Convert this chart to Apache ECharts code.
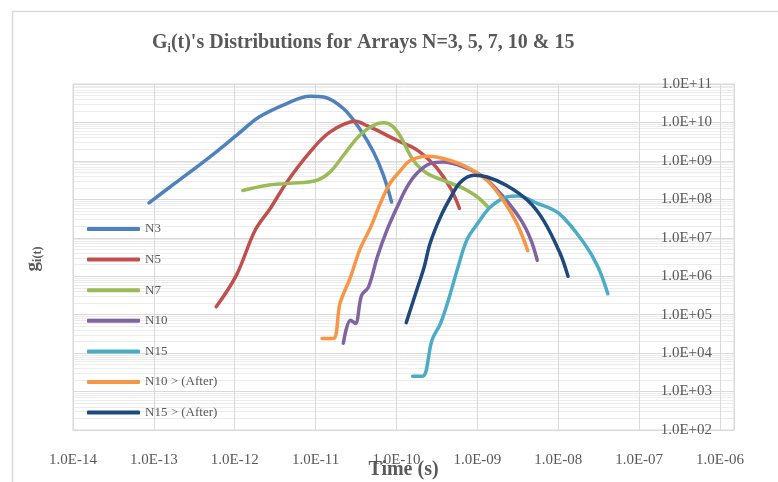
<!DOCTYPE html>
<html>
<head>
<meta charset="utf-8">
<script src="https://cdn.jsdelivr.net/npm/echarts@6/dist/echarts.min.js"></script>
<style>html,body{margin:0;padding:0;background:#fff;}#chart{width:778px;height:482px;}</style>
</head>
<body>
<div id="chart"></div>
<script>
// ---- data (time in seconds, g_i(t)) ----
const seriesNames = ['N3', 'N5', 'N7', 'N10', 'N15', 'N10 > (After)', 'N15 > (After)'];

const n3T = [8.7e-14, 1.9e-13, 4.9e-13, 1.05e-12, 2.0e-12, 4.4e-12, 8.5e-12, 1.26e-11, 2.2e-11, 3.5e-11, 5.2e-11, 6.9e-11, 8.7e-11];
const n3G = [8.1e7, 2.8e8, 1.26e9, 4.6e9, 1.38e10, 3.1e10, 4.8e10, 4.6e10, 2.3e10, 6.9e9, 1.7e9, 4.2e8, 8.5e7];

const n5T = [5.9e-13, 1.05e-12, 1.78e-12, 2.75e-12, 4.4e-12, 8.5e-12, 1.5e-11, 3.1e-11, 4.3e-11, 5.8e-11, 8.3e-11, 1.12e-10, 1.62e-10, 2.2e-10, 3.2e-10, 4.7e-10, 6.0e-10];
const n5G = [1.6e5, 1.07e6, 1.55e7, 5.8e7, 2.8e8, 1.7e9, 5.6e9, 1.07e10, 8.3e9, 6.2e9, 4.2e9, 3.1e9, 2.2e9, 1.38e9, 6.3e8, 1.9e8, 5.8e7];

const n7T = [1.26e-12, 2.45e-12, 4.8e-12, 1.02e-11, 1.5e-11, 2.2e-11, 3.5e-11, 5.8e-11, 7.1e-11, 8.9e-11, 1.12e-10, 1.62e-10, 2.4e-10, 3.8e-10, 6.8e-10, 1.0e-9, 1.35e-9];
const n7G = [1.7e8, 2.3e8, 2.6e8, 3.1e8, 5.1e8, 1.38e9, 4.6e9, 9.3e9, 9.8e9, 8.0e9, 4.3e9, 1.02e9, 4.7e8, 3.1e8, 1.9e8, 1.15e8, 6.3e7];

const n10T = [2.2e-11, 2.7e-11, 3.1e-11, 3.7e-11, 4.5e-11, 5.8e-11, 7.6e-11, 1.02e-10, 1.35e-10, 1.78e-10, 2.6e-10, 3.8e-10, 6.8e-10, 1.2e-9, 2.1e-9, 3.5e-9, 4.6e-9, 5.5e-9];
const n10G = [1.8e4, 7.2e4, 5.9e4, 3.2e5, 5.2e5, 3.2e6, 1.55e7, 6.3e7, 2.1e8, 4.7e8, 8.5e8, 9.3e8, 6.9e8, 3.8e8, 1.15e8, 2.8e7, 8.7e6, 2.6e6];

const n15T = [1.58e-10, 2.1e-10, 2.75e-10, 3.5e-10, 4.3e-10, 5.6e-10, 7.4e-10, 1.0e-9, 1.45e-9, 2.3e-9, 3.2e-9, 5.5e-9, 1.02e-8, 2.1e-8, 3.1e-8, 4.1e-8];
const n15G = [2.5e3, 2.5e3, 2.2e4, 5.9e4, 2.1e5, 1.4e6, 8.7e6, 2.3e7, 6.3e7, 1.15e8, 1.23e8, 7.9e7, 4.3e7, 7.1e6, 1.74e6, 3.5e5];

const n10aT = [1.2e-11, 1.66e-11, 2.0e-11, 2.7e-11, 3.5e-11, 4.8e-11, 6.3e-11, 8.3e-11, 1.12e-10, 1.48e-10, 2.4e-10, 3.8e-10, 7.4e-10, 1.32e-9, 2.1e-9, 3.1e-9, 4.2e-9];
const n10aG = [2.4e4, 2.4e4, 1.95e5, 9.5e5, 4.8e6, 1.9e7, 7.8e7, 2.6e8, 5.6e8, 1.02e9, 1.32e9, 1.15e9, 6.9e8, 3.1e8, 9.3e7, 2.3e7, 4.6e6];

const n15aT = [1.32e-10, 1.78e-10, 2.2e-10, 2.6e-10, 3.5e-10, 4.7e-10, 6.2e-10, 9.1e-10, 1.32e-9, 2.3e-9, 4.2e-9, 6.6e-9, 1.05e-8, 1.32e-8];
const n15aG = [6.2e4, 4.4e5, 1.74e6, 7.1e6, 3.5e7, 1.15e8, 2.8e8, 4.2e8, 3.8e8, 2.3e8, 9.3e7, 2.8e7, 4.0e6, 1.0e6];

const xTickMin = 1e-14, xAxisMax = 1.49e-6;
const yTickMin = 1e2, yTickMax = 1e11;

// ---- presentation ----
const colors = ['#4F81BD', '#C0504D', '#9BBB59', '#8064A2', '#4BACC6', '#F79646', '#1F497D'];
const tArrays = [n3T, n5T, n7T, n10T, n15T, n10aT, n15aT];
const gArrays = [n3G, n5G, n7G, n10G, n15G, n10aG, n15aG];
const FONT = 'Liberation Serif';
const TXT = '#595959';

function sciLabel(v) {
  const l = Math.log10(v);
  const e = Math.round(l);
  if (Math.abs(l - e) > 0.01) return '';
  const s = e < 0 ? '-' : '+';
  const a = Math.abs(e);
  return '1.0E' + s + (a < 10 ? '0' + a : '' + a);
}

// minor log gridlines (2..9 within each decade)
const minorX = [], minorY = [];
for (let e = -14; e <= -7; e++) for (let m = 2; m <= 9; m++) minorX.push(m * Math.pow(10, e));
for (let e = 2; e <= 10; e++) for (let m = 2; m <= 9; m++) minorY.push(m * Math.pow(10, e));

const dataSeries = seriesNames.map((name, i) => ({
  name: name,
  type: 'line',
  data: tArrays[i].map((t, k) => [t, gArrays[i][k]]),
  showSymbol: false,
  symbol: 'none',
  smooth: 0.35,
  color: colors[i],
  lineStyle: { width: 3.5, color: colors[i], cap: 'round', join: 'round' },
  z: 5 + i
}));

const gridHelper = {
  name: '_grid',
  type: 'line',
  data: [],
  silent: true,
  z: 1,
  markLine: {
    silent: true,
    z: 1,
    symbol: ['none', 'none'],
    label: { show: false },
    animation: false,
    lineStyle: { color: '#ececec', width: 1, type: 'solid' },
    emphasis: { disabled: true },
    data: minorX.map(v => ({ xAxis: v })).concat(minorY.map(v => ({ yAxis: v })))
  }
};

const chart = echarts.init(document.getElementById('chart'), null, { renderer: 'canvas' });
chart.setOption({
  animation: false,
  backgroundColor: '#ffffff',
  title: {
    text: 'G{s|i}(t)\'s Distributions for Arrays N=3, 5, 7, 10 & 15',
    left: 152,
    top: 31,
    padding: 0,
    textStyle: {
      fontFamily: FONT, fontSize: 20, fontWeight: 'bold', color: TXT, lineHeight: 24,
      rich: {
        s: { fontFamily: FONT, fontSize: 12, fontWeight: 'bold', color: TXT, verticalAlign: 'bottom', lineHeight: 12 }
      }
    }
  },
  legend: {
    orient: 'vertical',
    left: 87,
    top: 221,
    padding: 0,
    z: 20,
    itemWidth: 53,
    itemHeight: 4,
    itemGap: 14.6,
    icon: 'roundRect',
    data: seriesNames,
    textStyle: { fontFamily: FONT, fontSize: 13, color: TXT, lineHeight: 16 }
  },
  grid: {
    left: 73, right: 44, top: 84, bottom: 52,
    show: true, borderColor: '#d9d9d9', borderWidth: 1,
    containLabel: false, outerBoundsMode: 'none'
  },
  xAxis: {
    type: 'log',
    min: xTickMin,
    max: xAxisMax,
    splitNumber: 9,
    z: 2,
    name: 'Time (s)',
    nameLocation: 'middle',
    nameGap: 30,
    nameMoveOverlap: false,
    nameTextStyle: { fontFamily: FONT, fontSize: 20, fontWeight: 'bold', color: TXT },
    axisLine: { show: true, lineStyle: { color: '#d9d9d9' } },
    axisTick: { show: false },
    axisLabel: { margin: 23, fontFamily: FONT, fontSize: 15, color: TXT, formatter: sciLabel, showMinLabel: true, showMaxLabel: true },
    splitLine: { show: true, lineStyle: { color: '#d9d9d9', width: 1 } }
  },
  yAxis: {
    type: 'log',
    min: yTickMin,
    max: yTickMax,
    splitNumber: 9,
    z: 2,
    position: 'right',
    axisLine: { show: true, lineStyle: { color: '#d9d9d9' } },
    axisTick: { show: false },
    axisLabel: { inside: true, margin: 22, fontFamily: FONT, fontSize: 15, color: TXT, formatter: sciLabel },
    splitLine: { show: true, lineStyle: { color: '#d9d9d9', width: 1 } }
  },
  graphic: [
    {
      type: 'rect', z: -10, silent: true,
      shape: { x: 12.5, y: 11.5, width: 900, height: 600 },
      style: { fill: 'none', stroke: '#d9d9d9', lineWidth: 1.5 }
    },
    {
      type: 'text', x: 33, y: 259, rotation: Math.PI / 2, silent: true,
      style: {
        text: '{g|g}{s|i(t)}',
        align: 'center', verticalAlign: 'middle',
        rich: {
          g: { fontFamily: FONT, fontSize: 19, fontWeight: 'bold', fill: TXT, lineHeight: 22 },
          s: { fontFamily: FONT, fontSize: 12, fontWeight: 'bold', fill: TXT, verticalAlign: 'bottom', lineHeight: 12 }
        }
      }
    }
  ],
  series: [gridHelper].concat(dataSeries)
});
</script>
</body>
</html>
